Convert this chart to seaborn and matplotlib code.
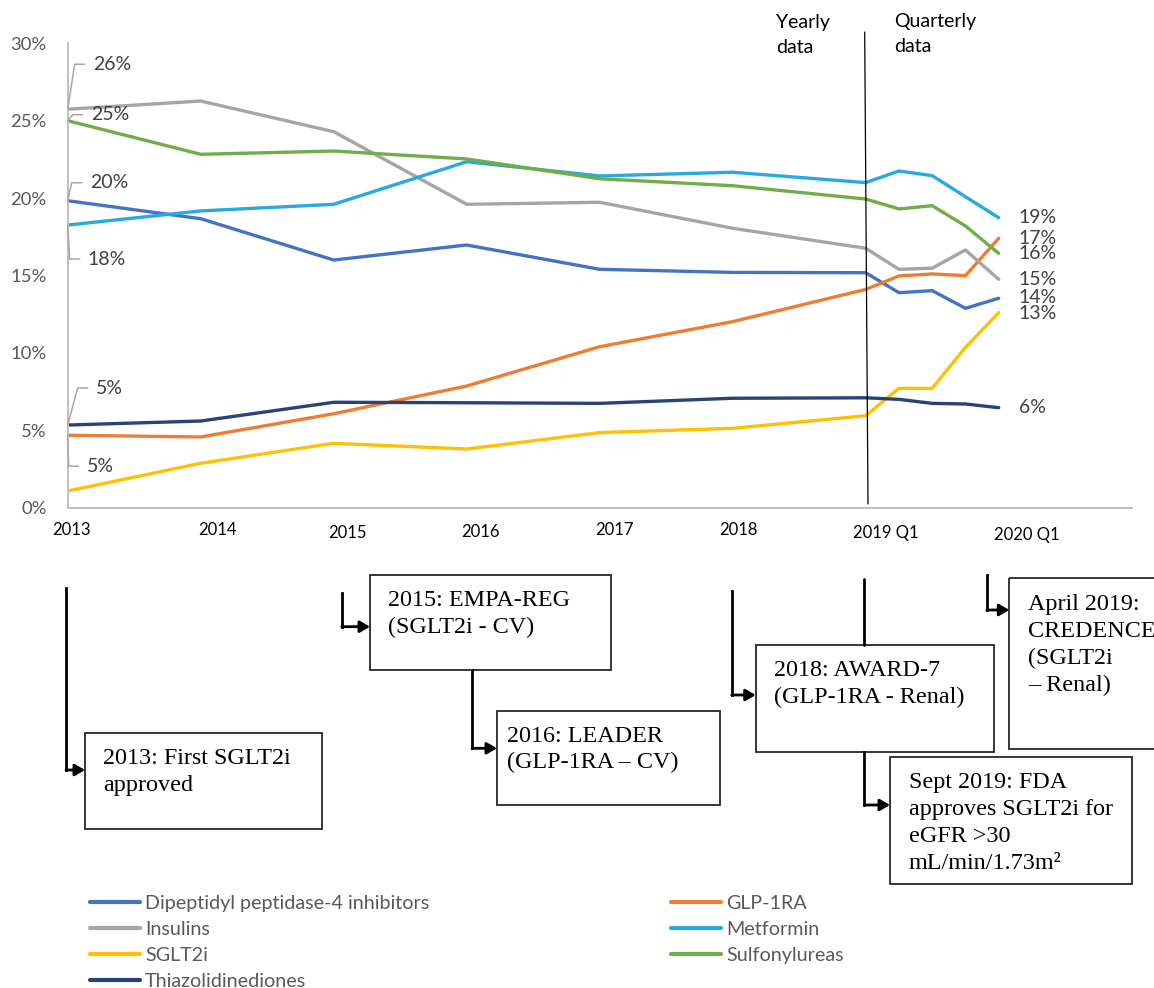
import numpy as np
import pandas as pd
import matplotlib
matplotlib.use("Agg")
import matplotlib.pyplot as plt
from matplotlib.patches import Rectangle
from matplotlib.ticker import FuncFormatter
import seaborn as sns

# ---------------- data ----------------
periods = ["2013", "2014", "2015", "2016", "2017", "2018",
           "2019 Q1", "2019 Q2", "2019 Q3", "2019 Q4", "2020 Q1"]
time_pos = [2013, 2014, 2015, 2016, 2017, 2018,
            2019.0, 2019.25, 2019.5, 2019.75, 2020.0]
tick_periods = ["2013", "2014", "2015", "2016", "2017", "2018", "2019 Q1", "2020 Q1"]

dpp4 = [19.83, 18.67, 16.0, 16.97, 15.4, 15.2, 15.18, 13.89, 14.02, 12.88, 13.53]
glp1 = [4.68, 4.57, 6.07, 7.86, 10.4, 12.02, 14.1, 14.97, 15.1, 14.99, 17.4]
insulins = [25.74, 26.27, 24.29, 19.6, 19.73, 18.05, 16.76, 15.4, 15.47, 16.65, 14.75]
metformin = [18.26, 19.17, 19.6, 22.35, 21.43, 21.67, 21.0, 21.75, 21.45, 20.09, 18.73]
sglt2 = [1.08, 2.87, 4.16, 3.79, 4.85, 5.13, 5.94, 7.71, 7.71, 10.36, 12.6]
sulfonylureas = [25.0, 22.83, 23.04, 22.53, 21.25, 20.8, 19.94, 19.3, 19.51, 18.2, 16.43]
tzd = [5.34, 5.6, 6.81, 6.78, 6.74, 7.07, 7.1, 7.0, 6.74, 6.7, 6.46]

classes = ["Dipeptidyl peptidase-4 inhibitors", "GLP-1RA", "Insulins", "Metformin",
           "SGLT2i", "Sulfonylureas", "Thiazolidinediones"]
series = dict(zip(classes, [dpp4, glp1, insulins, metformin, sglt2, sulfonylureas, tzd]))

palette = {
    "Dipeptidyl peptidase-4 inhibitors": "#4472C4",
    "GLP-1RA": "#ED7D31",
    "Insulins": "#A5A5A5",
    "Metformin": "#27AAE1",
    "SGLT2i": "#FFC000",
    "Sulfonylureas": "#70AD47",
    "Thiazolidinediones": "#264478",
}

milestones = [
    ["2013: First SGLT2i", "approved"],
    ["2015: EMPA-REG", "(SGLT2i - CV)"],
    ["2016: LEADER", "(GLP-1RA \u2013 CV)"],
    ["2018: AWARD-7", "(GLP-1RA - Renal)"],
    ["Sept 2019: FDA", "approves SGLT2i for", "eGFR >30", "mL/min/1.73m\u00b2"],
    ["April 2019:", "CREDENCE", "(SGLT2i", "\u2013 Renal)"],
]

# ---------------- figure ----------------
sns.set_style("white")
plt.rcParams["font.family"] = ["Lato", "DejaVu Sans"]

W, H = 1154, 988
fig = plt.figure(figsize=(W / 100, H / 100), dpi=100)
ax = fig.add_axes([67.7 / W, 1 - 507.7 / H, (1131.7 - 67.7) / W, (507.7 - 43.3) / H])

df = pd.DataFrame([
    {"time": t, "period": p, "class": c, "share": v}
    for c in classes for t, p, v in zip(time_pos, periods, series[c])
])
sns.lineplot(data=df, x="time", y="share", hue="class", hue_order=classes,
             palette=palette, estimator=None, sort=False, linewidth=2.4, ax=ax)
for ln in ax.lines:
    ln.set_solid_capstyle("round")
    ln.set_solid_joinstyle("round")

handles, labels = ax.get_legend_handles_labels()
ax.get_legend().remove()

ax.set_xlim(2013, 2021)
ax.set_ylim(0, 30)
ax.set_yticks(range(0, 31, 5))
ax.yaxis.set_major_formatter(FuncFormatter(lambda v, _: f"{v:.0f}%"))
ax.tick_params(axis="y", length=0, pad=15, labelsize=13.3, labelcolor="#595959")
ax.set_xticks([])
ax.set_xlabel("")
ax.set_ylabel("")
for s in ["top", "right"]:
    ax.spines[s].set_visible(False)
for s in ["left", "bottom"]:
    ax.spines[s].set_color("#BFBFBF")
    ax.spines[s].set_linewidth(1.4)


def to_px(x, y):
    d = ax.transData.transform((x, y))
    return d[0], H - d[1]


# overlay in pixel coordinates
ov = fig.add_axes([0, 0, 1, 1])
ov.set_xlim(0, W)
ov.set_ylim(H, 0)
ov.axis("off")
ov.patch.set_alpha(0)

# x tick labels (placed below the axis, offset as in the original)
tick_offsets = [(4, 22), (17, 22), (14, 25), (14, 24), (15, 22), (6, 22), (20, 25), (28, 27)]
for lab, (dx, dy) in zip(tick_periods, tick_offsets):
    px, _ = to_px(time_pos[periods.index(lab)], 0)
    ov.text(px + dx, 507.7 + dy, lab, ha="center", va="center", fontsize=12, color="black")

# end labels (2020 Q1), small vertical nudges where labels crowd
end_nudge = {"Dipeptidyl peptidase-4 inhibitors": -1, "SGLT2i": 1}
for c in classes:
    px, py = to_px(time_pos[-1], series[c][-1])
    ov.text(px + 20, py + end_nudge.get(c, 0), f"{series[c][-1]:.0f}%", ha="left",
            va="center", fontsize=14, color="#404040")

# start labels with leader lines (2013)
start_offsets = {
    "Insulins": (25, -45),
    "Sulfonylureas": (23, -6),
    "Dipeptidyl peptidase-4 inhibitors": (22, -18),
    "Metformin": (20, 34),
    "Thiazolidinediones": (28, -37),
    "GLP-1RA": (19, 31),
}
for c, (dx, dy) in start_offsets.items():
    px, py = to_px(time_pos[0], series[c][0])
    tx, ty = px + dx, py + dy
    ov.plot([px, tx - 18, tx - 8], [py, ty, ty], color="#A6A6A6", lw=1.1)
    ov.text(tx, ty, f"{series[c][0]:.0f}%", ha="left", va="center",
            fontsize=14, color="#404040")

# divider between yearly and quarterly data
dx0, _ = to_px(2019.0, 0)
ov.plot([dx0 - 1, dx0 + 2.3], [32, 504], color="black", lw=0.9)
ov.text(776, 28, "Yearly", fontsize=14, color="black", va="baseline")
ov.text(776, 53, "data", fontsize=14, color="black", va="baseline")
ov.text(894, 26.5, "Quarterly", fontsize=14, color="black", va="baseline")
ov.text(894, 51.5, "data", fontsize=14, color="black", va="baseline")

# milestone boxes
serif = ["Liberation Serif", "DejaVu Serif"]
boxes = [
    (85, 733.3, 322.3, 828.7, 103, 764),
    (370, 575, 611, 670, 388, 606),
    (497, 710.7, 720, 805, 507, 741.5),
    (755.7, 645.3, 994, 751.7, 774, 676),
    (890, 757.3, 1131.7, 884.3, 909, 788),
    (1009.3, 578.3, 1170, 749.3, 1028, 610),
]
for (x0, y0, x1, y1, tx, by), lines in zip(boxes, milestones):
    ov.add_patch(Rectangle((x0, y0), x1 - x0, y1 - y0, fill=False,
                           ec="#262626", lw=1.3, clip_on=False))
    for i, s in enumerate(lines):
        ov.text(tx, by + i * 27, s, family=serif, fontsize=17.4, color="black",
                va="baseline", ha="left")

# connector arrows
arrows = [
    ((66, 588), (66, 770), (85, 770)),
    ((341.7, 593), (341.7, 626.7), (370, 626.7)),
    ((472, 670), (472, 748.3), (497, 748.3)),
    ((731.7, 590.7), (731.7, 695), (755.7, 695)),
    ((864.3, 751.7), (864.3, 805), (890, 805)),
    ((986.7, 575), (986.7, 610), (1009.3, 610)),
]
for (ax0, ay0), (cx, cy), (ex, ey) in arrows:
    ov.plot([ax0, cx], [ay0, cy], color="black", lw=2, solid_capstyle="projecting")
    ov.annotate("", xy=(ex, ey), xytext=(cx, cy),
                arrowprops=dict(arrowstyle="-|>,head_length=0.6,head_width=0.35",
                                color="black", lw=2, shrinkA=0, shrinkB=0,
                                mutation_scale=10))
ov.plot([864.3, 864.3], [579.3, 645.3], color="black", lw=2)

# legend (two columns)
order1 = ["Dipeptidyl peptidase-4 inhibitors", "Insulins", "SGLT2i", "Thiazolidinediones"]
order2 = ["GLP-1RA", "Metformin", "Sulfonylureas"]
hmap = dict(zip(labels, handles))
for order, xpx in [(order1, 90), (order2, 671)]:
    leg = fig.legend([hmap[k] for k in order], order, loc="upper left",
                     bbox_to_anchor=(xpx / W, 1 - 895 / H), frameon=False,
                     fontsize=14.2, labelcolor="#595959", handlelength=2.55,
                     handletextpad=0.25, labelspacing=0.46, borderpad=0,
                     borderaxespad=0)
    for l in leg.get_lines():
        l.set_linewidth(3)

fig.savefig("out.png", dpi=100)
